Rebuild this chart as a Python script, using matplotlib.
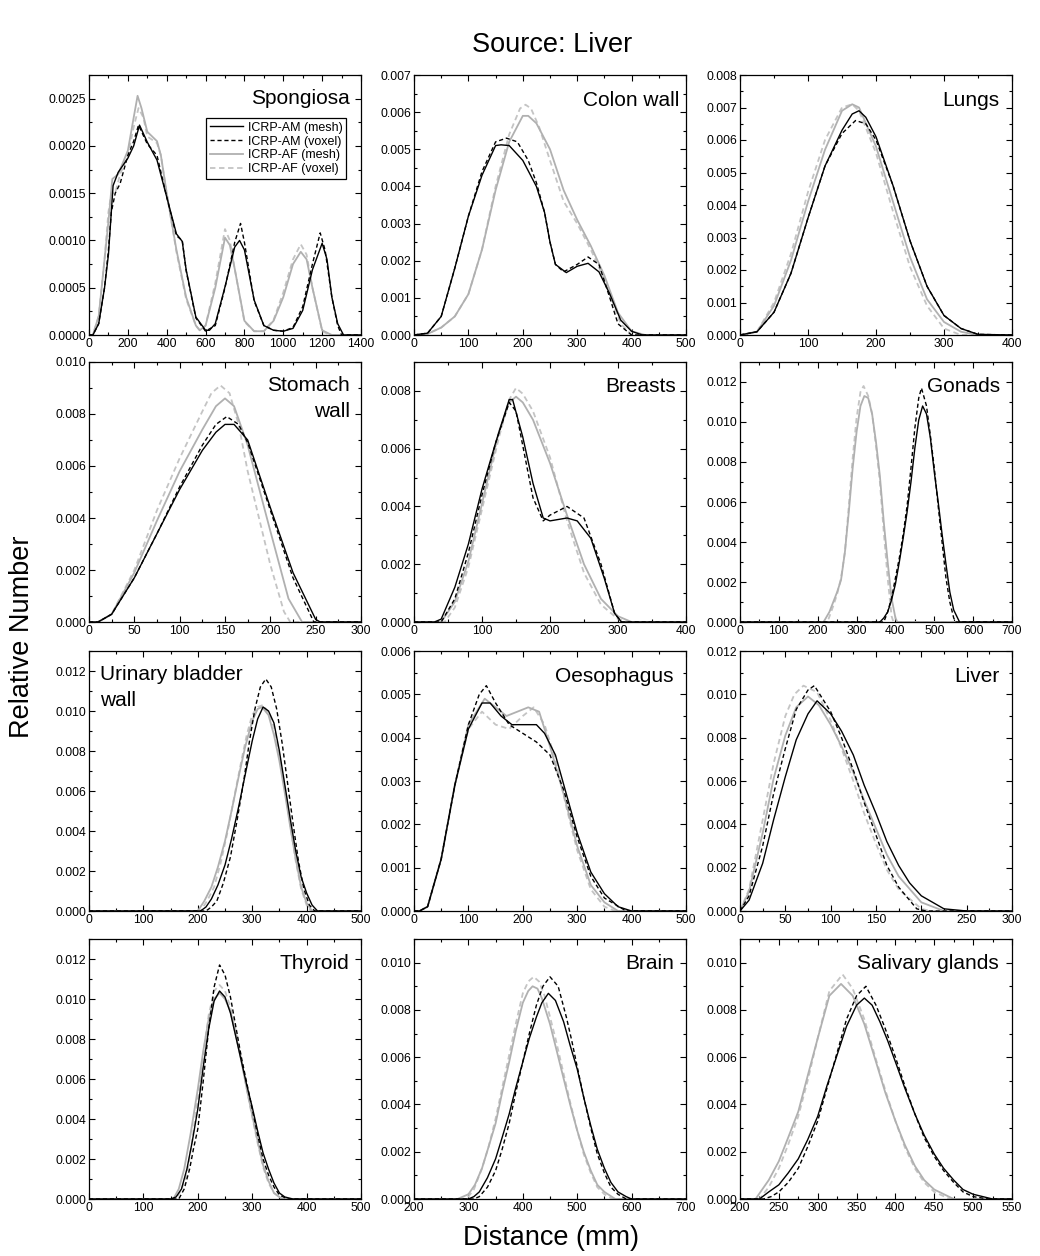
import numpy as np
import matplotlib
matplotlib.use('Agg')
import matplotlib.pyplot as plt
from matplotlib.ticker import MultipleLocator, AutoMinorLocator, FormatStrFormatter

plt.rcParams['font.family'] = ['Liberation Sans', 'DejaVu Sans']

# ---- data (distance in mm, relative number) ----
# Spongiosa
spon_am_mesh_x = [0, 20, 50, 80, 100, 124, 150, 200, 230, 260, 300, 350, 400, 450, 480, 500, 550, 600, 620, 650, 700, 750, 775, 800, 850, 900, 950, 1000, 1050, 1100, 1150, 1200, 1225, 1250, 1280, 1310, 1400]
spon_am_mesh_y = [0, 0, 0.00012, 0.0005, 0.00085, 0.00158, 0.00172, 0.00187, 0.0020, 0.00222, 0.00204, 0.00185, 0.00146, 0.00107, 0.00099, 0.00069, 0.00019, 0.00005, 0.00005, 0.00012, 0.00051, 0.00093, 0.0010, 0.0009, 0.00037, 0.0001, 0.00005, 0.00004, 0.00007, 0.00026, 0.00069, 0.00097, 0.0008, 0.0004, 0.00012, 0, 0]
spon_am_vox_x = [0, 20, 50, 80, 100, 115, 135, 160, 200, 230, 255, 300, 350, 400, 450, 480, 500, 550, 600, 650, 700, 750, 780, 800, 850, 900, 950, 1000, 1050, 1100, 1150, 1190, 1215, 1250, 1280, 1300, 1400]
spon_am_vox_y = [0, 0, 0.00012, 0.0005, 0.0009, 0.0013, 0.0015, 0.0016, 0.0019, 0.00205, 0.00222, 0.00202, 0.0019, 0.00146, 0.00105, 0.001, 0.00068, 0.00018, 0.00004, 0.0001, 0.0005, 0.00098, 0.00118, 0.00098, 0.00036, 0.0001, 0.00005, 0.00004, 0.00008, 0.0003, 0.00075, 0.00108, 0.0009, 0.0004, 0.0001, 0, 0]
spon_af_mesh_x = [0, 20, 50, 80, 100, 120, 150, 200, 230, 250, 270, 300, 350, 370, 400, 450, 500, 550, 570, 600, 650, 700, 725, 750, 800, 850, 900, 950, 1000, 1050, 1090, 1120, 1150, 1200, 1250, 1400]
spon_af_mesh_y = [0, 0, 0.0002, 0.0008, 0.0012, 0.00165, 0.0017, 0.00195, 0.0023, 0.00253, 0.0024, 0.00215, 0.00205, 0.0019, 0.0015, 0.0009, 0.0004, 0.0001, 0.00005, 0.0001, 0.0005, 0.00103, 0.00095, 0.0007, 0.00015, 0.00004, 0.00004, 0.00015, 0.0004, 0.00075, 0.00088, 0.0008, 0.0005, 0.00005, 0, 0]
spon_af_vox_x = [0, 20, 50, 80, 100, 115, 135, 160, 200, 230, 255, 280, 300, 350, 370, 400, 450, 500, 550, 570, 600, 650, 700, 725, 750, 800, 850, 900, 950, 1000, 1050, 1090, 1120, 1150, 1200, 1240, 1400]
spon_af_vox_y = [0, 0, 0.0002, 0.0008, 0.0013, 0.0015, 0.0015, 0.0017, 0.0019, 0.0022, 0.0024, 0.0023, 0.0021, 0.00203, 0.0019, 0.0015, 0.00088, 0.00038, 0.0001, 0.00005, 0.0001, 0.00055, 0.00112, 0.001, 0.0007, 0.00014, 0.00004, 0.00004, 0.00016, 0.00045, 0.0008, 0.00096, 0.00085, 0.0005, 0.00004, 0, 0]

# Colon wall
colon_am_mesh_x = [0, 25, 50, 75, 100, 125, 150, 160, 175, 200, 225, 240, 250, 260, 280, 300, 320, 340, 360, 380, 400, 420, 500]
colon_am_mesh_y = [0, 0.00005, 0.0005, 0.0018, 0.0032, 0.0043, 0.0051, 0.00512, 0.0051, 0.0047, 0.0040, 0.0033, 0.0025, 0.0019, 0.00168, 0.00185, 0.00193, 0.0017, 0.0011, 0.0004, 0.0001, 0, 0]
colon_am_vox_x = [0, 25, 50, 75, 100, 125, 150, 170, 190, 210, 225, 240, 250, 260, 275, 300, 320, 340, 360, 375, 400, 500]
colon_am_vox_y = [0, 0.00005, 0.0005, 0.0018, 0.0032, 0.0044, 0.0052, 0.0053, 0.0052, 0.0047, 0.0041, 0.0033, 0.0025, 0.0019, 0.0017, 0.0019, 0.0021, 0.0019, 0.001, 0.0003, 0, 0]
colon_af_mesh_x = [0, 25, 50, 75, 100, 125, 150, 175, 200, 210, 225, 250, 275, 300, 325, 350, 375, 400, 425, 500]
colon_af_mesh_y = [0, 0.00003, 0.0002, 0.0005, 0.0011, 0.0023, 0.0039, 0.0052, 0.0059, 0.0059, 0.0057, 0.0050, 0.0039, 0.0031, 0.0024, 0.0016, 0.0006, 0.0001, 0, 0]
colon_af_vox_x = [0, 25, 50, 75, 100, 125, 150, 175, 195, 205, 215, 230, 250, 275, 300, 325, 350, 380, 400, 500]
colon_af_vox_y = [0, 0.00003, 0.0002, 0.0005, 0.0011, 0.0023, 0.0040, 0.0054, 0.0061, 0.0062, 0.0061, 0.0056, 0.0047, 0.0036, 0.0030, 0.0023, 0.0015, 0.0003, 0, 0]

# Lungs
lungs_am_mesh_x = [0, 25, 50, 75, 100, 125, 150, 165, 175, 185, 200, 225, 250, 275, 300, 325, 350, 400]
lungs_am_mesh_y = [0, 0.0001, 0.0007, 0.0019, 0.0036, 0.0052, 0.0063, 0.0068, 0.0069, 0.0067, 0.0061, 0.0046, 0.0029, 0.0015, 0.0006, 0.0002, 0.00002, 0]
lungs_am_vox_x = [0, 25, 50, 75, 100, 125, 150, 170, 185, 200, 225, 250, 275, 300, 325, 350, 400]
lungs_am_vox_y = [0, 0.0001, 0.0007, 0.0019, 0.0036, 0.0052, 0.0062, 0.0066, 0.0065, 0.0060, 0.0046, 0.0029, 0.0015, 0.0006, 0.0002, 0.00002, 0]
lungs_af_mesh_x = [0, 25, 50, 75, 100, 125, 150, 165, 175, 200, 225, 250, 275, 300, 325, 350, 400]
lungs_af_mesh_y = [0, 0.0001, 0.0009, 0.0023, 0.0041, 0.0057, 0.0069, 0.0071, 0.0070, 0.0058, 0.0041, 0.0024, 0.0011, 0.0004, 0.0001, 0, 0]
lungs_af_vox_x = [0, 25, 50, 75, 100, 125, 150, 165, 175, 200, 225, 250, 275, 300, 325, 400]
lungs_af_vox_y = [0, 0.0001, 0.0010, 0.0025, 0.0044, 0.0060, 0.0070, 0.0071, 0.0069, 0.0056, 0.0038, 0.0021, 0.0009, 0.0002, 0, 0]

# Stomach wall
stom_am_mesh_x = [0, 10, 25, 50, 75, 100, 125, 140, 150, 160, 175, 200, 225, 250, 255, 300]
stom_am_mesh_y = [0, 0, 0.0003, 0.0017, 0.0034, 0.0051, 0.0066, 0.0073, 0.0076, 0.0076, 0.0070, 0.0044, 0.0019, 0.0001, 0, 0]
stom_am_vox_x = [0, 10, 25, 50, 75, 100, 125, 140, 152, 165, 175, 200, 225, 248, 300]
stom_am_vox_y = [0, 0, 0.0003, 0.0017, 0.0034, 0.0052, 0.0068, 0.0076, 0.0079, 0.0076, 0.0069, 0.0043, 0.0017, 0, 0]
stom_af_mesh_x = [0, 10, 25, 50, 75, 100, 125, 140, 150, 160, 175, 200, 220, 235, 300]
stom_af_mesh_y = [0, 0, 0.0003, 0.0019, 0.0039, 0.0058, 0.0074, 0.0083, 0.0086, 0.0083, 0.0068, 0.0035, 0.0009, 0, 0]
stom_af_vox_x = [0, 10, 25, 50, 75, 100, 125, 135, 145, 155, 165, 175, 200, 215, 222, 300]
stom_af_vox_y = [0, 0, 0.0003, 0.0020, 0.0043, 0.0063, 0.0081, 0.0088, 0.0091, 0.0088, 0.0076, 0.0058, 0.0022, 0.0004, 0, 0]

# Breasts
breast_am_mesh_x = [0, 30, 40, 60, 80, 100, 120, 140, 145, 160, 175, 190, 200, 225, 240, 260, 280, 295, 305, 400]
breast_am_mesh_y = [0, 0, 0.0001, 0.0012, 0.0027, 0.0046, 0.0062, 0.0077, 0.0077, 0.0064, 0.0048, 0.0036, 0.0035, 0.0036, 0.0035, 0.0029, 0.0015, 0.0003, 0, 0]
breast_am_vox_x = [0, 40, 60, 80, 100, 120, 140, 150, 175, 190, 200, 225, 250, 275, 295, 305, 400]
breast_am_vox_y = [0, 0, 0.0008, 0.0024, 0.0044, 0.0062, 0.0076, 0.0073, 0.0043, 0.0035, 0.0037, 0.0040, 0.0036, 0.0020, 0.0003, 0, 0]
breast_af_mesh_x = [0, 40, 60, 80, 100, 125, 140, 150, 160, 175, 200, 225, 250, 275, 300, 320, 400]
breast_af_mesh_y = [0, 0, 0.0007, 0.0021, 0.0041, 0.0066, 0.0076, 0.0078, 0.0076, 0.0070, 0.0055, 0.0037, 0.0020, 0.0008, 0.0002, 0, 0]
breast_af_vox_x = [0, 45, 60, 80, 100, 125, 140, 150, 160, 175, 200, 225, 250, 275, 300, 315, 400]
breast_af_vox_y = [0, 0, 0.0005, 0.0019, 0.0039, 0.0064, 0.0077, 0.0081, 0.0079, 0.0073, 0.0057, 0.0035, 0.0017, 0.0006, 0.0001, 0, 0]

# Gonads
gonad_am_mesh_x = [0, 360, 370, 380, 390, 400, 410, 420, 430, 440, 450, 460, 470, 480, 490, 500, 510, 520, 530, 540, 550, 560, 565, 700]
gonad_am_mesh_y = [0, 0, 0.0002, 0.0005, 0.0011, 0.0019, 0.0030, 0.0042, 0.0055, 0.0070, 0.0087, 0.0101, 0.0108, 0.0104, 0.0092, 0.0075, 0.0060, 0.0044, 0.0029, 0.0015, 0.0006, 0.0002, 0, 0]
gonad_am_vox_x = [0, 370, 380, 390, 400, 410, 420, 430, 440, 450, 460, 467, 480, 490, 500, 510, 520, 530, 540, 550, 555, 700]
gonad_am_vox_y = [0, 0, 0.0005, 0.0012, 0.0022, 0.0032, 0.0044, 0.0058, 0.0077, 0.0097, 0.0112, 0.0117, 0.0108, 0.0093, 0.0077, 0.0058, 0.0040, 0.0022, 0.0010, 0.0002, 0, 0]
gonad_af_mesh_x = [0, 215, 230, 240, 250, 260, 270, 280, 290, 300, 310, 320, 330, 340, 350, 360, 370, 380, 390, 400, 405, 700]
gonad_af_mesh_y = [0, 0, 0.0005, 0.0010, 0.0015, 0.0021, 0.0035, 0.0055, 0.0077, 0.0095, 0.0108, 0.0113, 0.0112, 0.0104, 0.0090, 0.0073, 0.0050, 0.0030, 0.0012, 0.0002, 0, 0]
gonad_af_vox_x = [0, 225, 240, 250, 260, 270, 280, 290, 300, 310, 318, 330, 340, 350, 360, 370, 380, 390, 395, 700]
gonad_af_vox_y = [0, 0, 0.0008, 0.0014, 0.0022, 0.0035, 0.0058, 0.0082, 0.0102, 0.0115, 0.0118, 0.0113, 0.0104, 0.0088, 0.0070, 0.0045, 0.0022, 0.0003, 0, 0]

# Urinary bladder wall
ubw_am_mesh_x = [0, 205, 215, 225, 237, 250, 262, 275, 287, 300, 310, 320, 330, 340, 350, 360, 370, 380, 390, 400, 410, 420, 500]
ubw_am_mesh_y = [0, 0, 0.0002, 0.0006, 0.0013, 0.0023, 0.0036, 0.0052, 0.0068, 0.0085, 0.0096, 0.0102, 0.0100, 0.0094, 0.0080, 0.0063, 0.0046, 0.0030, 0.0017, 0.0009, 0.0003, 0, 0]
ubw_am_vox_x = [0, 215, 225, 235, 247, 260, 272, 285, 295, 305, 315, 325, 335, 345, 355, 365, 375, 385, 395, 405, 415, 500]
ubw_am_vox_y = [0, 0, 0.0002, 0.0005, 0.0014, 0.0027, 0.0045, 0.0066, 0.0085, 0.0101, 0.0112, 0.0116, 0.0112, 0.0101, 0.0084, 0.0064, 0.0044, 0.0025, 0.0011, 0.0003, 0, 0]
ubw_af_mesh_x = [0, 200, 212, 225, 237, 250, 262, 275, 287, 300, 310, 318, 330, 340, 350, 360, 370, 380, 390, 400, 410, 500]
ubw_af_mesh_y = [0, 0, 0.0005, 0.0012, 0.0022, 0.0035, 0.0050, 0.0067, 0.0082, 0.0095, 0.0101, 0.0102, 0.0098, 0.0088, 0.0075, 0.0059, 0.0042, 0.0026, 0.0012, 0.0004, 0, 0]
ubw_af_vox_x = [0, 205, 217, 230, 242, 255, 267, 280, 290, 300, 310, 320, 330, 340, 350, 360, 370, 380, 390, 400, 408, 500]
ubw_af_vox_y = [0, 0, 0.0005, 0.0012, 0.0024, 0.0040, 0.0057, 0.0075, 0.0088, 0.0098, 0.0102, 0.0103, 0.0099, 0.0092, 0.0078, 0.0062, 0.0043, 0.0025, 0.0011, 0.0003, 0, 0]

# Oesophagus
oes_am_mesh_x = [0, 10, 25, 50, 75, 100, 125, 140, 160, 180, 200, 225, 240, 260, 280, 300, 325, 350, 375, 400, 500]
oes_am_mesh_y = [0, 0, 0.0001, 0.0012, 0.0029, 0.0042, 0.0048, 0.0048, 0.0045, 0.0043, 0.0043, 0.0043, 0.0041, 0.0036, 0.0027, 0.0018, 0.0009, 0.0004, 0.0001, 0, 0]
oes_am_vox_x = [0, 10, 25, 50, 75, 100, 120, 133, 150, 175, 200, 225, 250, 275, 300, 325, 350, 390, 500]
oes_am_vox_y = [0, 0, 0.0001, 0.0012, 0.0029, 0.0043, 0.0050, 0.0052, 0.0048, 0.0043, 0.0041, 0.0039, 0.0036, 0.0028, 0.0017, 0.0008, 0.0003, 0, 0]
oes_af_mesh_x = [0, 10, 25, 50, 75, 100, 130, 150, 170, 190, 210, 230, 250, 275, 300, 325, 350, 375, 500]
oes_af_mesh_y = [0, 0, 0.0001, 0.0012, 0.0029, 0.0043, 0.0049, 0.0047, 0.0045, 0.0046, 0.0047, 0.0046, 0.0038, 0.0027, 0.0015, 0.0006, 0.0002, 0, 0]
oes_af_vox_x = [0, 10, 25, 50, 75, 100, 125, 150, 175, 200, 220, 240, 260, 280, 300, 325, 350, 370, 500]
oes_af_vox_y = [0, 0, 0.0001, 0.0012, 0.0029, 0.0042, 0.0046, 0.0043, 0.0042, 0.0045, 0.0047, 0.0043, 0.0035, 0.0024, 0.0014, 0.0005, 0.0001, 0, 0]

# Liver
liver_am_mesh_x = [0, 10, 25, 37, 50, 62, 75, 85, 100, 112, 125, 137, 150, 162, 175, 187, 200, 225, 250, 300]
liver_am_mesh_y = [0, 0.0005, 0.0022, 0.0042, 0.0062, 0.0079, 0.0091, 0.0097, 0.0091, 0.0083, 0.0072, 0.0058, 0.0045, 0.0032, 0.0021, 0.0013, 0.0007, 0.0001, 0, 0]
liver_am_vox_x = [0, 10, 25, 37, 50, 62, 75, 82, 100, 112, 125, 137, 150, 162, 175, 195, 205, 300]
liver_am_vox_y = [0, 0.0007, 0.0030, 0.0054, 0.0075, 0.0093, 0.0102, 0.0104, 0.0092, 0.0080, 0.0065, 0.0050, 0.0035, 0.0021, 0.0011, 0.0001, 0, 0]
liver_af_mesh_x = [0, 10, 25, 37, 50, 62, 75, 87, 100, 112, 125, 137, 150, 162, 175, 200, 225, 300]
liver_af_mesh_y = [0, 0.0009, 0.0036, 0.0061, 0.0081, 0.0094, 0.0099, 0.0095, 0.0086, 0.0076, 0.0064, 0.0051, 0.0038, 0.0026, 0.0016, 0.0004, 0, 0]
liver_af_vox_x = [0, 10, 25, 37, 50, 60, 70, 85, 100, 112, 125, 137, 150, 162, 175, 200, 210, 300]
liver_af_vox_y = [0, 0.0010, 0.0042, 0.0068, 0.0090, 0.0100, 0.0104, 0.0101, 0.0088, 0.0075, 0.0060, 0.0045, 0.0031, 0.0019, 0.0010, 0.0001, 0, 0]

# Thyroid
thy_am_mesh_x = [0, 150, 160, 170, 180, 190, 200, 210, 220, 230, 240, 250, 260, 270, 280, 290, 300, 310, 320, 330, 340, 350, 360, 375, 500]
thy_am_mesh_y = [0, 0, 0.0001, 0.0005, 0.0015, 0.0029, 0.0045, 0.0066, 0.0085, 0.0099, 0.0104, 0.0101, 0.0093, 0.0081, 0.0069, 0.0057, 0.0046, 0.0034, 0.0023, 0.0015, 0.0008, 0.0003, 0.0001, 0, 0]
thy_am_vox_x = [0, 165, 175, 185, 192, 200, 210, 220, 230, 240, 250, 260, 270, 280, 290, 300, 310, 320, 330, 340, 350, 365, 500]
thy_am_vox_y = [0, 0, 0.0005, 0.0015, 0.0025, 0.0035, 0.0059, 0.0085, 0.0106, 0.0117, 0.0112, 0.0101, 0.0086, 0.0071, 0.0058, 0.0045, 0.0032, 0.0020, 0.0012, 0.0006, 0.0002, 0, 0]
thy_af_mesh_x = [0, 155, 165, 175, 187, 200, 210, 220, 230, 240, 250, 260, 270, 280, 290, 300, 310, 320, 330, 340, 355, 500]
thy_af_mesh_y = [0, 0, 0.0005, 0.0015, 0.0033, 0.0055, 0.0074, 0.0090, 0.0100, 0.0103, 0.0100, 0.0094, 0.0082, 0.0069, 0.0055, 0.0042, 0.0029, 0.0017, 0.0009, 0.0003, 0, 0]
thy_af_vox_x = [0, 160, 170, 180, 190, 200, 210, 220, 230, 240, 250, 260, 270, 280, 290, 300, 310, 320, 330, 340, 355, 500]
thy_af_vox_y = [0, 0, 0.0005, 0.0012, 0.0030, 0.0050, 0.0072, 0.0092, 0.0104, 0.0107, 0.0104, 0.0096, 0.0084, 0.0070, 0.0055, 0.0041, 0.0028, 0.0016, 0.0008, 0.0003, 0, 0]

# Brain
brain_am_mesh_x = [200, 300, 310, 320, 335, 350, 362, 375, 387, 400, 412, 425, 435, 447, 460, 475, 487, 500, 512, 525, 537, 550, 562, 575, 590, 600, 700]
brain_am_mesh_y = [0, 0, 0.0001, 0.0003, 0.0009, 0.0017, 0.0026, 0.0036, 0.0047, 0.0058, 0.0068, 0.0077, 0.0083, 0.0087, 0.0084, 0.0075, 0.0065, 0.0055, 0.0043, 0.0031, 0.0021, 0.0013, 0.0007, 0.0003, 0.0001, 0, 0]
brain_am_vox_x = [200, 310, 320, 335, 350, 362, 375, 387, 400, 412, 425, 437, 450, 465, 480, 490, 500, 512, 525, 537, 550, 562, 575, 590, 700]
brain_am_vox_y = [0, 0, 0.0001, 0.0005, 0.0012, 0.0021, 0.0032, 0.0045, 0.0058, 0.0070, 0.0082, 0.0090, 0.0094, 0.0090, 0.0077, 0.0067, 0.0056, 0.0043, 0.0030, 0.0019, 0.0011, 0.0005, 0.0002, 0, 0]
brain_af_mesh_x = [200, 280, 290, 300, 312, 325, 337, 350, 362, 375, 387, 400, 410, 418, 427, 435, 450, 462, 475, 487, 500, 512, 525, 537, 550, 570, 700]
brain_af_mesh_y = [0, 0, 0.0001, 0.0002, 0.0006, 0.0013, 0.0022, 0.0032, 0.0045, 0.0058, 0.0071, 0.0083, 0.0088, 0.0090, 0.0089, 0.0085, 0.0074, 0.0063, 0.0051, 0.0040, 0.0029, 0.0020, 0.0012, 0.0006, 0.0003, 0, 0]
brain_af_vox_x = [200, 290, 300, 310, 325, 337, 350, 362, 375, 387, 400, 410, 420, 430, 440, 450, 460, 475, 487, 500, 512, 525, 537, 550, 565, 700]
brain_af_vox_y = [0, 0, 0.0001, 0.0004, 0.0013, 0.0022, 0.0034, 0.0047, 0.0061, 0.0074, 0.0087, 0.0092, 0.0094, 0.0092, 0.0086, 0.0077, 0.0068, 0.0053, 0.0041, 0.0029, 0.0019, 0.0011, 0.0005, 0.0002, 0, 0]

# Salivary glands
sal_am_mesh_x = [200, 225, 237, 250, 262, 275, 287, 300, 312, 325, 337, 350, 360, 370, 380, 390, 400, 412, 425, 437, 450, 462, 475, 487, 500, 525, 550]
sal_am_mesh_y = [0, 0, 0.0003, 0.0006, 0.0011, 0.0017, 0.0025, 0.0035, 0.0048, 0.0061, 0.0073, 0.0082, 0.0085, 0.0082, 0.0075, 0.0067, 0.0058, 0.0047, 0.0036, 0.0027, 0.0019, 0.0013, 0.0008, 0.0004, 0.0002, 0, 0]
sal_am_vox_x = [200, 230, 240, 250, 262, 275, 287, 300, 312, 325, 337, 350, 362, 375, 387, 400, 412, 425, 437, 450, 462, 475, 487, 500, 520, 550]
sal_am_vox_y = [0, 0, 0.0001, 0.0003, 0.0007, 0.0013, 0.0022, 0.0033, 0.0047, 0.0062, 0.0076, 0.0086, 0.0090, 0.0082, 0.0072, 0.0060, 0.0048, 0.0036, 0.0026, 0.0018, 0.0012, 0.0007, 0.0003, 0.0001, 0, 0]
sal_af_mesh_x = [200, 220, 237, 250, 262, 275, 287, 300, 315, 330, 345, 360, 375, 387, 400, 412, 425, 437, 450, 475, 550]
sal_af_mesh_y = [0, 0, 0.0008, 0.0016, 0.0026, 0.0037, 0.0052, 0.0068, 0.0086, 0.0091, 0.0086, 0.0074, 0.0058, 0.0045, 0.0033, 0.0023, 0.0014, 0.0008, 0.0004, 0, 0]
sal_af_vox_x = [200, 225, 237, 250, 262, 275, 287, 300, 315, 332, 345, 360, 375, 387, 400, 412, 425, 437, 450, 470, 550]
sal_af_vox_y = [0, 0, 0.0005, 0.0013, 0.0023, 0.0035, 0.0050, 0.0068, 0.0088, 0.0095, 0.0089, 0.0076, 0.0059, 0.0046, 0.0033, 0.0022, 0.0013, 0.0007, 0.0003, 0, 0]

series_labels = ['ICRP-AM (mesh)', 'ICRP-AM (voxel)', 'ICRP-AF (mesh)', 'ICRP-AF (voxel)']

# name, series, xlim, x major, ylim, y major, y format, label pos
panels = [
    ('Spongiosa', [(spon_am_mesh_x, spon_am_mesh_y), (spon_am_vox_x, spon_am_vox_y), (spon_af_mesh_x, spon_af_mesh_y), (spon_af_vox_x, spon_af_vox_y)],
     (0, 1400), 200, (0, 0.00275), 0.0005, '%.4f', (0.96, 0.91, 'right')),
    ('Colon wall', [(colon_am_mesh_x, colon_am_mesh_y), (colon_am_vox_x, colon_am_vox_y), (colon_af_mesh_x, colon_af_mesh_y), (colon_af_vox_x, colon_af_vox_y)],
     (0, 500), 100, (0, 0.007), 0.001, '%.3f', (0.975, 0.90, 'right')),
    ('Lungs', [(lungs_am_mesh_x, lungs_am_mesh_y), (lungs_am_vox_x, lungs_am_vox_y), (lungs_af_mesh_x, lungs_af_mesh_y), (lungs_af_vox_x, lungs_af_vox_y)],
     (0, 400), 100, (0, 0.008), 0.001, '%.3f', (0.955, 0.90, 'right')),
    ('Stomach\nwall', [(stom_am_mesh_x, stom_am_mesh_y), (stom_am_vox_x, stom_am_vox_y), (stom_af_mesh_x, stom_af_mesh_y), (stom_af_vox_x, stom_af_vox_y)],
     (0, 300), 50, (0, 0.010), 0.002, '%.3f', (0.96, 0.86, 'right')),
    ('Breasts', [(breast_am_mesh_x, breast_am_mesh_y), (breast_am_vox_x, breast_am_vox_y), (breast_af_mesh_x, breast_af_mesh_y), (breast_af_vox_x, breast_af_vox_y)],
     (0, 400), 100, (0, 0.009), 0.002, '%.3f', (0.965, 0.905, 'right')),
    ('Gonads', [(gonad_am_mesh_x, gonad_am_mesh_y), (gonad_am_vox_x, gonad_am_vox_y), (gonad_af_mesh_x, gonad_af_mesh_y), (gonad_af_vox_x, gonad_af_vox_y)],
     (0, 700), 100, (0, 0.013), 0.002, '%.3f', (0.955, 0.905, 'right')),
    ('Urinary bladder\nwall', [(ubw_am_mesh_x, ubw_am_mesh_y), (ubw_am_vox_x, ubw_am_vox_y), (ubw_af_mesh_x, ubw_af_mesh_y), (ubw_af_vox_x, ubw_af_vox_y)],
     (0, 500), 100, (0, 0.013), 0.002, '%.3f', (0.04, 0.86, 'left')),
    ('Oesophagus', [(oes_am_mesh_x, oes_am_mesh_y), (oes_am_vox_x, oes_am_vox_y), (oes_af_mesh_x, oes_af_mesh_y), (oes_af_vox_x, oes_af_vox_y)],
     (0, 500), 100, (0, 0.006), 0.001, '%.3f', (0.955, 0.90, 'right')),
    ('Liver', [(liver_am_mesh_x, liver_am_mesh_y), (liver_am_vox_x, liver_am_vox_y), (liver_af_mesh_x, liver_af_mesh_y), (liver_af_vox_x, liver_af_vox_y)],
     (0, 300), 50, (0, 0.012), 0.002, '%.3f', (0.955, 0.90, 'right')),
    ('Thyroid', [(thy_am_mesh_x, thy_am_mesh_y), (thy_am_vox_x, thy_am_vox_y), (thy_af_mesh_x, thy_af_mesh_y), (thy_af_vox_x, thy_af_vox_y)],
     (0, 500), 100, (0, 0.013), 0.002, '%.3f', (0.955, 0.905, 'right')),
    ('Brain', [(brain_am_mesh_x, brain_am_mesh_y), (brain_am_vox_x, brain_am_vox_y), (brain_af_mesh_x, brain_af_mesh_y), (brain_af_vox_x, brain_af_vox_y)],
     (200, 700), 100, (0, 0.011), 0.002, '%.3f', (0.955, 0.905, 'right')),
    ('Salivary glands', [(sal_am_mesh_x, sal_am_mesh_y), (sal_am_vox_x, sal_am_vox_y), (sal_af_mesh_x, sal_af_mesh_y), (sal_af_vox_x, sal_af_vox_y)],
     (200, 550), 50, (0, 0.011), 0.002, '%.3f', (0.95, 0.905, 'right')),
]

styles = [dict(color='black', ls='-', lw=1.0),
          dict(color='black', ls=(0, (3, 2)), lw=1.0),
          dict(color='#b0b0b0', ls='-', lw=1.3),
          dict(color='#c4c4c4', ls=(0, (3, 2)), lw=1.3)]

fig = plt.figure(figsize=(10.4, 12.56), dpi=100)
col_left = [89, 414, 740]
row_top = [75, 362, 651, 939]
W, H = 272, 260

for i, (name, series, xlim, xmaj, ylim, ymaj, yfmt, lpos) in enumerate(panels):
    r, c = divmod(i, 3)
    ax = fig.add_axes([col_left[c] / 1040, 1 - (row_top[r] + H) / 1256, W / 1040, H / 1256])
    for (sx, sy), st, lab in zip(series[::-1], styles[::-1], series_labels[::-1]):
        ax.plot(sx, sy, label=lab, **st)
    ax.set_xlim(*xlim)
    ax.set_ylim(*ylim)
    ax.xaxis.set_major_locator(MultipleLocator(xmaj))
    ax.yaxis.set_major_locator(MultipleLocator(ymaj))
    ax.xaxis.set_minor_locator(AutoMinorLocator(2))
    ax.yaxis.set_minor_locator(AutoMinorLocator(2))
    ax.yaxis.set_major_formatter(FormatStrFormatter(yfmt))
    ax.xaxis.set_major_formatter(FormatStrFormatter('%d'))
    ax.tick_params(which='both', direction='in', top=True, right=True, labelsize=8.7, pad=2)
    ax.tick_params(which='major', length=4, width=0.8)
    ax.tick_params(which='minor', length=2.2, width=0.8)
    for sp in ax.spines.values():
        sp.set_linewidth(0.9)
    tx, ty, ha = lpos
    ax.text(tx, ty, name, transform=ax.transAxes, ha=ha, va='center',
            multialignment=ha, fontsize=15, linespacing=1.45)
    if i == 0:
        h, l = ax.get_legend_handles_labels()
        leg = ax.legend(h[::-1], l[::-1], loc='upper right', bbox_to_anchor=(0.945, 0.835),
                        borderaxespad=0, fontsize=9, labelspacing=0.15, handlelength=2.6,
                        handletextpad=0.4, borderpad=0.3, fancybox=False, framealpha=1)
        leg.get_frame().set_edgecolor('black')
        leg.get_frame().set_linewidth(0.9)

fig.text(552 / 1040, 1 - 45 / 1256, 'Source: Liver', ha='center', va='center', fontsize=19.5)
fig.text(22 / 1040, 1 - 637 / 1256, 'Relative Number', ha='center', va='center', rotation=90, fontsize=19.5)
fig.text(551 / 1040, 1 - 1238 / 1256, 'Distance (mm)', ha='center', va='center', fontsize=19.5)

fig.savefig('out.png', dpi=100)
